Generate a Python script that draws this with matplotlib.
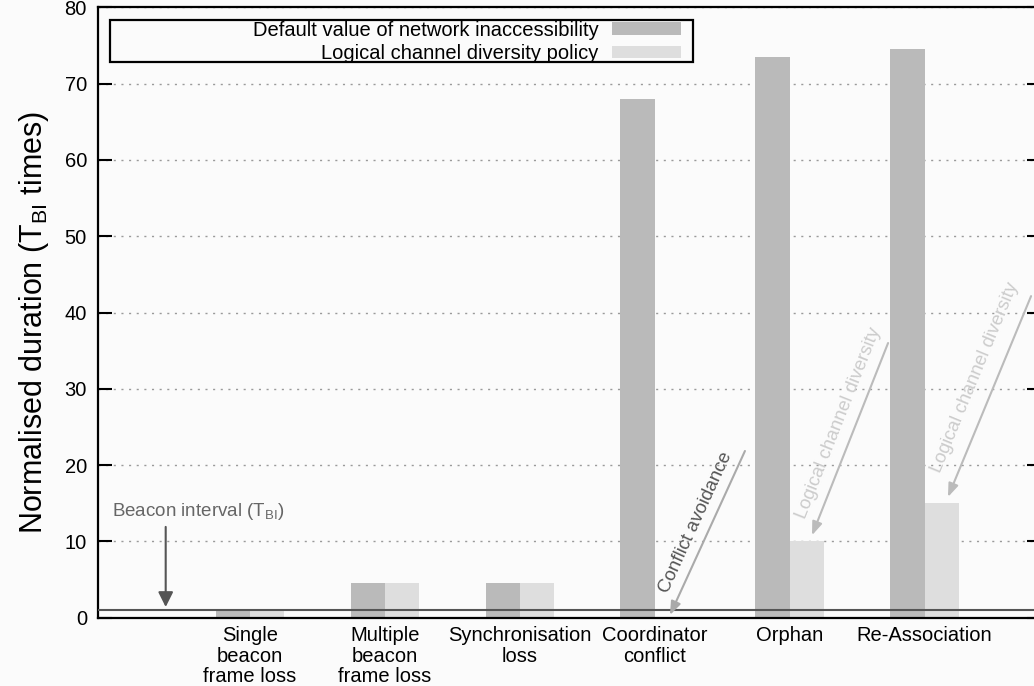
import matplotlib
matplotlib.use("Agg")
import matplotlib.pyplot as plt
from matplotlib.patches import Rectangle

# inaccessibility durations, normalised to the beacon interval
categories = ["Single\nbeacon\nframe loss", "Multiple\nbeacon\nframe loss",
              "Synchronisation\nloss", "Coordinator\nconflict", "Orphan",
              "Re-Association"]
default_vals = [1.0, 4.5, 4.5, 68.0, 73.5, 74.5]
diversity_vals = [1.0, 4.5, 4.5, 0.0, 10.0, 15.0]
series_names = ["Default value of network inaccessibility",
                "Logical channel diversity policy"]
beacon_interval = 1.0
yticks = list(range(0, 81, 10))

plt.rcParams["font.family"] = ["Liberation Sans", "DejaVu Sans"]
plt.rcParams["mathtext.default"] = "regular"

bg = "#fbfbfb"
fig = plt.figure(figsize=(10.34, 6.86), dpi=100, facecolor=bg)
ax = fig.add_axes([98 / 1034, 68.3 / 686, 943 / 1034, 610.4 / 686], facecolor=bg)

x = list(range(len(categories)))
w = 0.254
b1 = ax.bar([i - w / 2 for i in x], default_vals, width=w, color="#bababa", zorder=2)
b2 = ax.bar([i + w / 2 for i in x], diversity_vals, width=w, color="#dedede", zorder=2)

ax.axhline(beacon_interval, color="#555555", lw=1.5, zorder=3)

ax.set_xlim(-1.1268, 5.8636)
ax.set_ylim(0, 80)
ax.set_yticks(yticks)
ax.set_xticks(x)
ax.set_xticklabels(categories, fontsize=14.5, linespacing=1.1)
ax.tick_params(axis="x", length=0, pad=6)
ax.tick_params(axis="y", direction="in", length=10, width=1.5, labelsize=14.5,
               pad=8, right=True)
for s in ax.spines.values():
    s.set_linewidth(1.6)

ax.set_axisbelow(True)
ax.yaxis.grid(True, color="#9a9a9a", lw=1.0, linestyle=(0, (1.5, 4)))

ax.set_ylabel("Normalised duration (T$_{BI}$ times)", fontsize=22)
ax.yaxis.set_label_coords(-0.05, 0.484)

# legend with its own frame
box = Rectangle((0.0127, 0.9104), 0.6182, 0.0688, transform=ax.transAxes,
                facecolor=bg, edgecolor="black", lw=1.6, zorder=4)
ax.add_patch(box)
leg = ax.legend([b1, b2], series_names, loc="upper right",
                bbox_to_anchor=(0.6182, 0.978), frameon=False, markerfirst=False,
                handlelength=3.4, handleheight=0.6, handletextpad=0.7,
                labelspacing=0.22, borderpad=0, borderaxespad=0, fontsize=14.5)
leg.set_zorder(5)

# annotations
ax.annotate("", xy=(-0.625, 1.4), xytext=(-0.625, 11.9),
            arrowprops=dict(arrowstyle="-|>,head_length=0.9,head_width=0.45",
                            color="#555555", lw=1.5, shrinkA=0, shrinkB=0))
ax.text(-1.02, 13.9, "Beacon interval (T$_{BI}$)", fontsize=13.5, color="#666666",
        va="center", ha="left")

ax.annotate("", xy=(3.113, 0.35), xytext=(3.669, 21.85),
            arrowprops=dict(arrowstyle="-|>,head_length=0.8,head_width=0.3",
                            color="#aaaaaa", lw=1.5, shrinkA=0, shrinkB=0),
            annotation_clip=False)
ax.text(3.305, 12.5, "Conflict avoidance", fontsize=13.5, color="#555555",
        rotation=65.4, ha="center", va="center", rotation_mode="anchor")

ax.annotate("", xy=(4.166, 10.8), xytext=(4.730, 36.0),
            arrowprops=dict(arrowstyle="-|>,head_length=0.8,head_width=0.3",
                            color="#bbbbbb", lw=1.5, shrinkA=0, shrinkB=0),
            annotation_clip=False)
ax.text(4.36, 25.5, "Logical channel diversity", fontsize=13.5, color="#cccccc",
        rotation=68.4, ha="center", va="center", rotation_mode="anchor")

ax.annotate("", xy=(5.174, 15.82), xytext=(5.790, 42.15),
            arrowprops=dict(arrowstyle="-|>,head_length=0.8,head_width=0.3",
                            color="#bbbbbb", lw=1.5, shrinkA=0, shrinkB=0),
            annotation_clip=False)
ax.text(5.375, 31.5, "Logical channel diversity", fontsize=13.5, color="#cccccc",
        rotation=67.6, ha="center", va="center", rotation_mode="anchor")

fig.savefig("out.png", dpi=100, facecolor=bg)
